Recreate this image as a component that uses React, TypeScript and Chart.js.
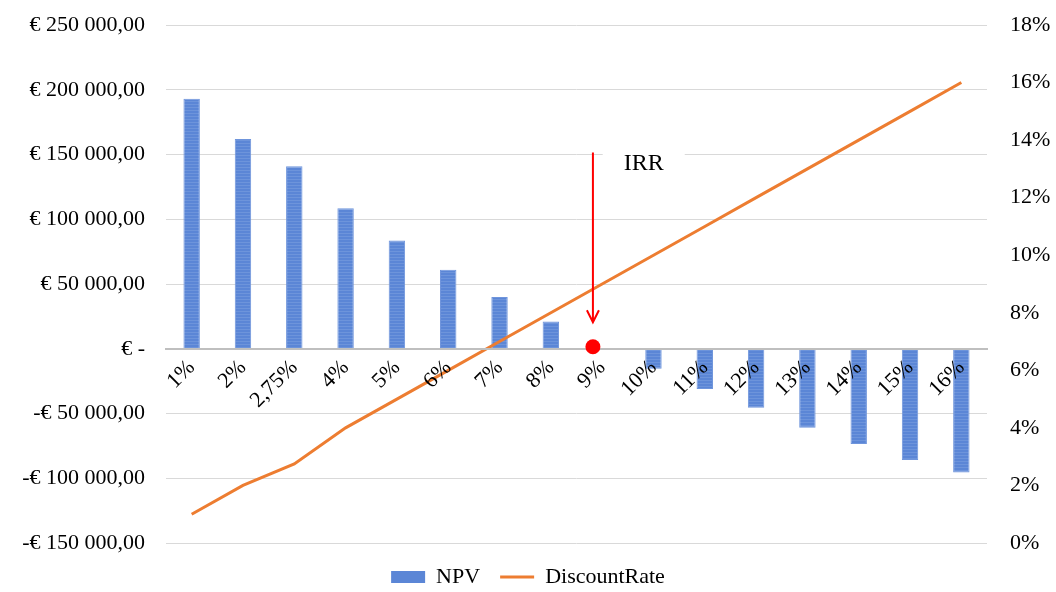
import React, { useEffect, useRef } from "react";
import { Chart, registerables } from "chart.js";

Chart.register(...registerables);

const categories = ["1%", "2%", "2,75%", "4%", "5%", "6%", "7%", "8%", "9%", "10%", "11%", "12%", "13%", "14%", "15%", "16%"];
const npvValues = [193000, 162000, 141000, 108500, 83500, 61000, 40000, 21000, 0, -15500, -31000, -45500, -61000, -73500, -86000, -95500];
const discountRateValues = [1, 2, 2.75, 4, 5, 6, 7, 8, 9, 10, 11, 12, 13, 14, 15, 16];

const npvMin = -150000;
const npvMax = 250000;
const npvStep = 50000;
const rateMin = 0;
const rateMax = 18;
const rateStep = 2;

// IRR annotation (category index position, values on NPV axis)
const irrIndex = 7.82;
const irrNpv = 0;
const irrArrowTop = 151500;
const irrArrowTip = 20500;
const irrLabel = "IRR";
const irrLabelIndex = 8.81;
const irrLabelNpv = 143000;

const FONT = "'Liberation Serif', 'Times New Roman', serif";
const BLUE = "#5B86D6";
const ORANGE = "#ED7D31";

function fmtEuro(v: number): string {
  if (v === 0) return "€ -";
  const abs = Math.abs(v);
  const s = Math.round(abs).toString().replace(/\B(?=(\d{3})+(?!\d))/g, " ");
  return (v < 0 ? "-" : "") + "€ " + s + ",00";
}

function makePattern(): CanvasPattern | string {
  const c = document.createElement("canvas");
  c.width = 4;
  c.height = 3;
  const g = c.getContext("2d");
  if (!g) return BLUE;
  g.fillStyle = "#5B86D6";
  g.fillRect(0, 0, 4, 3);
  g.fillStyle = "#6D94DB";
  g.fillRect(0, 2, 4, 1);
  const p = g.createPattern(c, "repeat");
  return p || BLUE;
}

const irrPlugin = {
  id: "irrMarker",
  afterLayout(chart: any) {
    const lg = chart.legend;
    if (lg) {
      lg.top += 3;
      lg.bottom += 3;
    }
  },
  beforeDatasetsDraw(chart: any) {
    const { ctx, scales } = chart;
    const x = scales.x;
    const y = scales.y;
    const lx = x.getPixelForValue(irrLabelIndex);
    const ly = y.getPixelForValue(irrLabelNpv);
    ctx.save();
    ctx.font = `24px ${FONT}`;
    const w = ctx.measureText(irrLabel).width;
    ctx.fillStyle = "#ffffff";
    ctx.fillRect(lx - w / 2 - 21, ly - 20, w + 42, 40);
    ctx.restore();
  },
  afterDraw(chart: any) {
    const { ctx, scales } = chart;
    const x = scales.x;
    const y = scales.y;
    const px = x.getPixelForValue(irrIndex);
    const yTop = y.getPixelForValue(irrArrowTop);
    const yTip = y.getPixelForValue(irrArrowTip);
    const y0 = y.getPixelForValue(irrNpv);
    const lx = x.getPixelForValue(irrLabelIndex);
    const ly = y.getPixelForValue(irrLabelNpv);
    ctx.save();
    ctx.font = `24px ${FONT}`;
    ctx.fillStyle = "#000000";
    ctx.textAlign = "center";
    ctx.textBaseline = "middle";
    ctx.fillText(irrLabel, lx, ly);
    ctx.strokeStyle = "#FF0000";
    ctx.lineWidth = 2;
    ctx.beginPath();
    ctx.moveTo(px, yTop);
    ctx.lineTo(px, yTip);
    ctx.moveTo(px - 6, yTip - 12);
    ctx.lineTo(px, yTip);
    ctx.lineTo(px + 6, yTip - 12);
    ctx.stroke();
    ctx.fillStyle = "#FF0000";
    ctx.beginPath();
    ctx.arc(px, y0 - 2, 7.5, 0, Math.PI * 2);
    ctx.fill();
    ctx.restore();
  },
};

export default function App() {
  const ref = useRef<HTMLCanvasElement | null>(null);

  useEffect(() => {
    if (!ref.current) return;
    const pattern = makePattern();
    const chart = new Chart(ref.current, {
      type: "bar",
      data: {
        labels: categories,
        datasets: [
          {
            type: "line",
            label: "DiscountRate",
            data: discountRateValues,
            yAxisID: "y1",
            borderColor: ORANGE,
            backgroundColor: ORANGE,
            borderWidth: 3,
            pointRadius: 0,
            tension: 0,
            order: 0,
          } as any,
          {
            type: "bar",
            label: "NPV",
            data: npvValues,
            yAxisID: "y",
            backgroundColor: pattern as any,
            borderColor: "#6F95DC",
            borderWidth: 1,
            categoryPercentage: 1,
            barPercentage: 0.32,
            order: 1,
          } as any,
        ],
      },
      options: {
        responsive: true,
        maintainAspectRatio: false,
        animation: false,
        layout: { padding: { top: 25, bottom: -3, left: 0, right: 0 } },
        plugins: {
          tooltip: { enabled: false },
          legend: {
            position: "bottom",
            labels: {
              font: { family: FONT, size: 22 },
              color: "#000000",
              usePointStyle: true,
              pointStyleWidth: 34,
              boxHeight: 12,
              padding: 20,
              generateLabels: () => [
                {
                  text: "NPV",
                  fillStyle: BLUE,
                  strokeStyle: BLUE,
                  lineWidth: 0,
                  pointStyle: "rect",
                  hidden: false,
                  datasetIndex: 1,
                  fontColor: "#000000",
                } as any,
                {
                  text: "DiscountRate",
                  fillStyle: ORANGE,
                  strokeStyle: ORANGE,
                  lineWidth: 3,
                  pointStyle: "line",
                  hidden: false,
                  datasetIndex: 0,
                  fontColor: "#000000",
                } as any,
              ],
            },
          },
        },
        scales: {
          x: {
            type: "category",
            position: { y: 0 } as any,
            offset: true,
            grid: { display: false, drawTicks: false },
            border: { display: true, color: "#BFBFBF", width: 2, z: 1 },
            ticks: {
              z: 2,
              font: { family: FONT, size: 22 },
              color: "#000000",
              minRotation: 45,
              maxRotation: 45,
              autoSkip: false,
              padding: 6,
            },
          },
          y: {
            type: "linear",
            position: "left",
            min: npvMin,
            max: npvMax,
            grid: { color: "#D9D9D9", lineWidth: 1, drawTicks: true, tickLength: 20, tickColor: "rgba(0,0,0,0)" },
            border: { display: false },
            ticks: {
              stepSize: npvStep,
              font: { family: FONT, size: 22 },
              color: "#000000",
              padding: 1,
              callback: (v: any) => fmtEuro(Number(v)),
            },
            afterFit: (s: any) => {
              s.width = 166;
            },
          },
          y1: {
            type: "linear",
            position: "right",
            min: rateMin,
            max: rateMax,
            grid: { display: false, drawTicks: true, tickLength: 22, tickColor: "rgba(0,0,0,0)" },
            border: { display: false },
            ticks: {
              stepSize: rateStep,
              font: { family: FONT, size: 22 },
              color: "#000000",
              padding: 1,
              callback: (v: any) => `${v}%`,
            },
            afterFit: (s: any) => {
              s.width = 69;
            },
          },
        },
      },
      plugins: [irrPlugin],
    });
    return () => chart.destroy();
  }, []);

  return (
    <div style={{ position: "fixed", left: 0, top: 0, width: 1056, height: 592, background: "#ffffff" }}>
      <canvas ref={ref} />
    </div>
  );
}
